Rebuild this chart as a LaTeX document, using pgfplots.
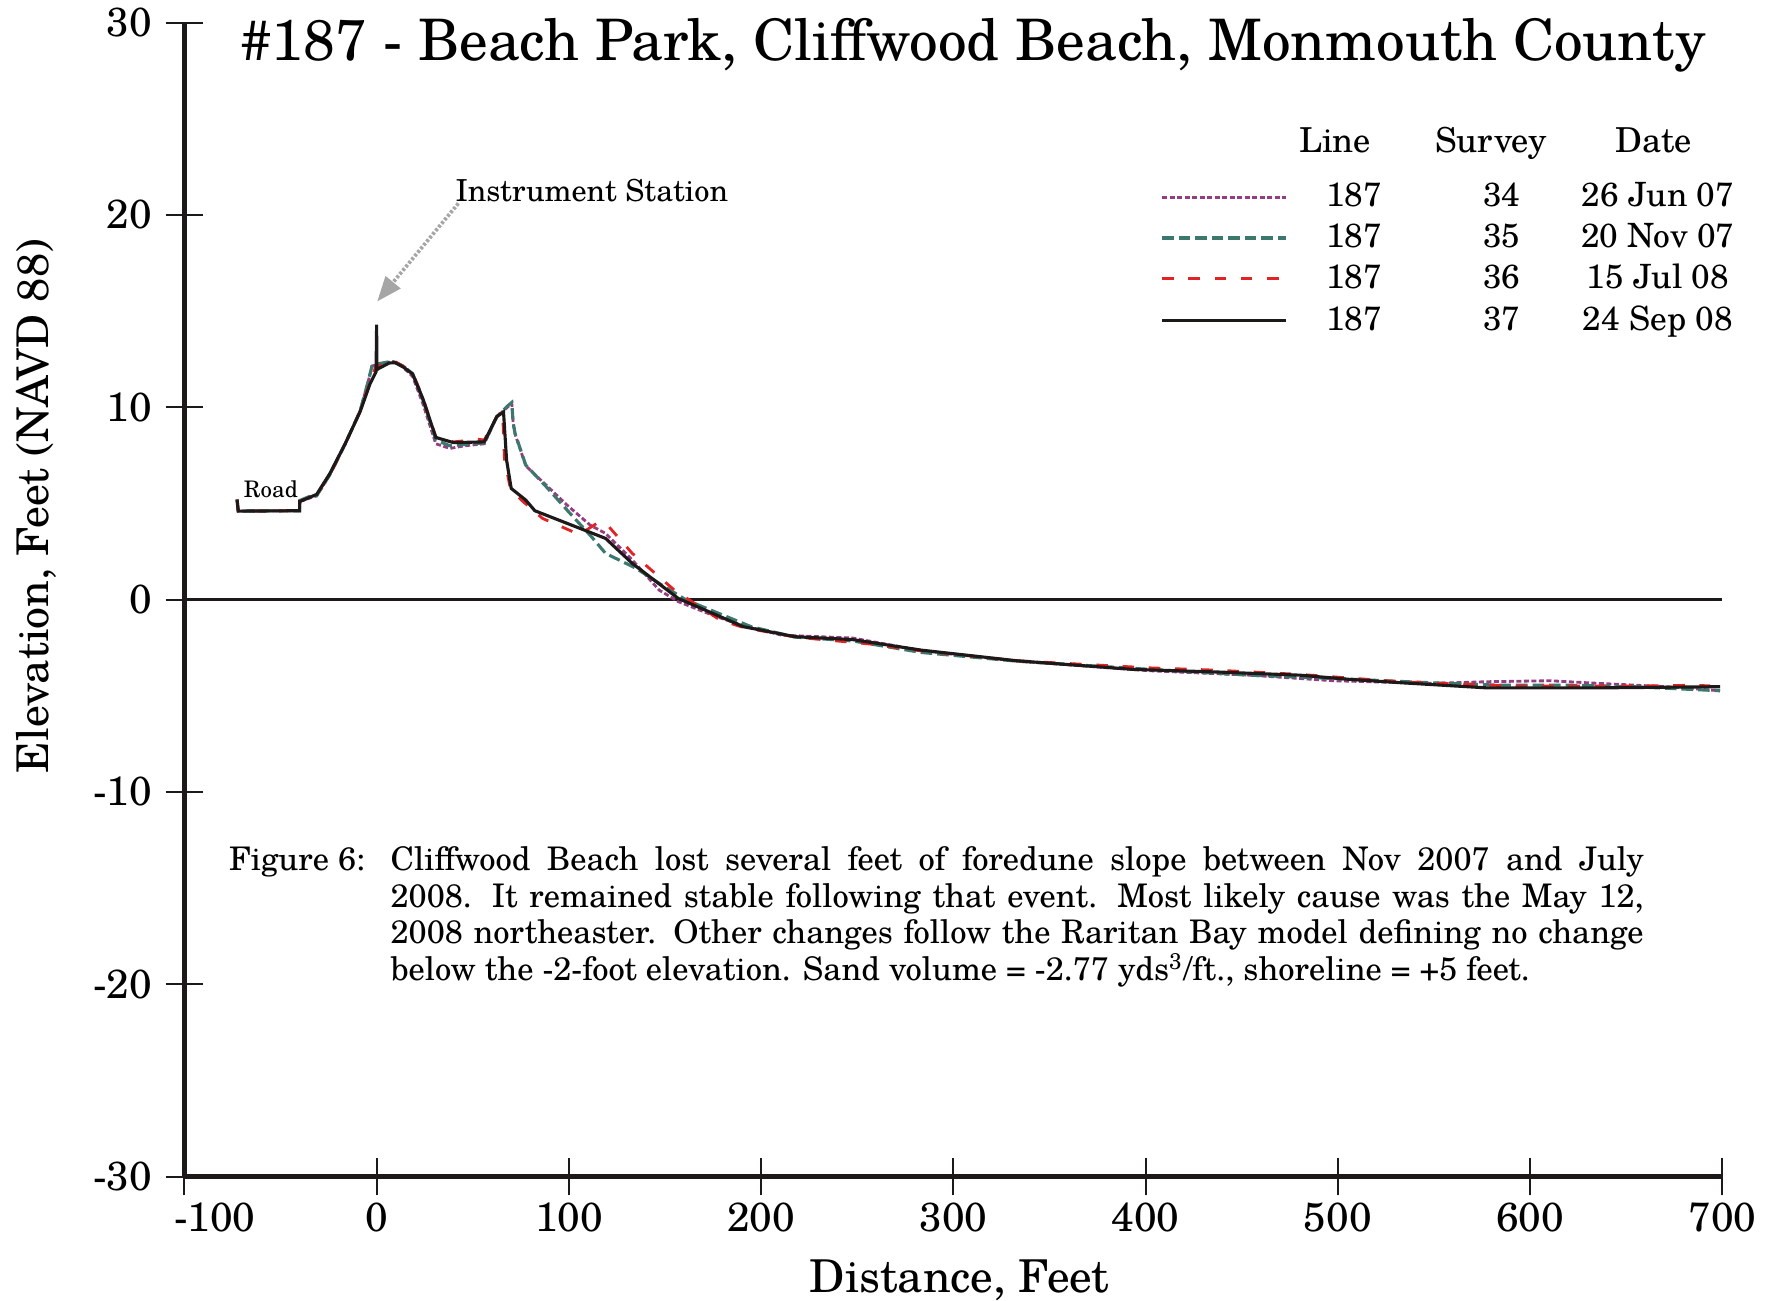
\documentclass[border=0pt]{standalone}
\usepackage{fontspec}
\setmainfont[PunctuationSpace=1]{TeX Gyre Schola}
\usepackage{pgfplots}
\pgfplotsset{compat=1.18}
\usetikzlibrary{arrows.meta}
\definecolor{cPurple}{RGB}{150,60,130}
\definecolor{cGreen}{RGB}{60,120,110}
\definecolor{cRed}{RGB}{225,35,35}
\definecolor{cBlack}{RGB}{30,25,25}
\begin{document}
\begin{tikzpicture}
\begin{axis}[
  scale only axis, width=492.16pt, height=369.28pt,
  xmin=-100, xmax=700, ymin=-30, ymax=30,
  axis lines*=left,
  axis line style={line width=1.4pt, color=cBlack},
  xtick={-100,0,...,700}, ytick={-30,-20,...,30},
  xticklabels={\makebox[0pt][c]{\hspace{19.4pt}-100},0,100,200,300,400,500,600,700},
  yticklabels={-30,-20,-10,0,10,20,30},
  tick align=center, major tick length=12pt,
  tick style={line width=0.6pt, cBlack},
  ticklabel style={font=\fontsize{13}{15}\selectfont},
  yticklabel style={xshift=-0.9pt},
  xticklabel style={yshift=1.2pt},
  every axis x label/.style={at={(axis description cs:0.504,-0.090)},anchor=center,font=\fontsize{14.5}{16}\selectfont},
  every axis y label/.style={at={(axis description cs:-0.096,0.581)},rotate=90,anchor=center,font=\fontsize{14}{16}\selectfont},
  xlabel={Distance, Feet},
  ylabel={Elevation, Feet (NAVD 88)},
  clip=false,
  legend style={draw=none, fill=none, at={(rel axis cs:0.6343,0.8617)}, anchor=north west,
    inner sep=0pt, row sep=3.8pt, column sep=8.3pt,
    nodes={inner sep=0pt, font=\fontsize{10.7}{13}\selectfont}},
  legend cell align=left,
  legend image code/.code={\draw[#1] (0pt,0pt) -- (39.8pt,0pt);},
]
\addplot[cBlack, line width=1pt, forget plot] coordinates {(-100,0) (700,0)};

% Survey 34, 26 Jun 07
\addplot[cPurple, line width=0.9pt, dash pattern=on 1.6pt off 0.8pt] coordinates {
(-72.6,5.2) (-72.0,4.6) (-40.1,4.62) (-40.0,5.1) (-31.2,5.4) (-24.3,6.5) (-16.3,8.1)
(-8.6,9.8) (-4.5,11.3) (-2.3,12.15) (3,12.25) (8,12.4) (13.6,12.1) (18.7,11.6) (24.0,10.2)
(30.8,8.1) (38.1,7.86) (46,8.0) (56.0,8.1) (62.5,9.5) (68,10.0) (70.3,10.2) (71,9.2) (72,8.6)
(77.6,6.95) (88.2,5.95) (99.2,4.9) (111.1,3.87) (119.1,3.44) (133,2.06) (147,0.49) (157,-0.11)
(176.8,-0.89) (190.8,-1.35) (210.7,-1.85) (247.6,-2.0) (283.4,-2.65) (332.9,-3.2) (402.3,-3.70)
(454.3,-3.93) (497.6,-4.22) (549.7,-4.36) (577.4,-4.27) (610.4,-4.22) (636.4,-4.36) (671,-4.53)
(698.8,-4.74)};
\addlegendentry{\makebox[25.6pt][c]{187}\makebox[69.1pt][c]{34}\makebox[30.7pt][c]{26 Jun 07}\vphantom{Jp}}

% Survey 35, 20 Nov 07
\addplot[cGreen, line width=1pt, dash pattern=on 3.7pt off 1.6pt] coordinates {
(-72.6,5.2) (-72.0,4.6) (-40.1,4.62) (-40.0,5.15) (-34,5.4) (-31.2,5.4) (-24.3,6.5) (-16.3,8.1)
(-8.6,9.8) (-4.5,11.3) (-2.3,12.2) (3,12.3) (8,12.4) (13.6,12.15) (18.7,11.75) (24.0,10.4)
(30.8,8.3) (38,8.0) (56.0,8.15) (62.5,9.5) (68,10.06) (70.3,10.25) (71,9.2) (72,8.64)
(77.6,6.99) (88.2,5.87) (100,4.55) (112.1,3.23) (119.1,2.40) (135.1,1.62) (147.0,0.84)
(161.0,-0.02) (194.8,-1.41) (217.7,-1.95) (247.6,-2.15) (283.4,-2.75) (332.9,-3.2) (402.3,-3.63)
(454.3,-3.93) (497.6,-4.10) (549.7,-4.33) (584,-4.45) (619,-4.45) (653.7,-4.53) (698.8,-4.74)};
\addlegendentry{\makebox[25.6pt][c]{187}\makebox[69.1pt][c]{35}\makebox[30.7pt][c]{20 Nov 07}\vphantom{Jp}}

% Survey 36, 15 Jul 08
\addplot[cRed, line width=0.9pt, dash pattern=on 3.7pt off 4.7pt] coordinates {
(-72.6,5.2) (-72.0,4.6) (-40.1,4.62) (-40.0,5.1) (-31.2,5.45) (-24.3,6.5) (-16.3,8.1)
(-8.6,9.8) (-3.5,11.3) (-0.5,12.1) (5.5,12.3) (10,12.35) (13.6,12.15) (18.7,11.8) (24.0,10.5)
(30.8,8.45) (40.0,8.2) (53,8.33) (56.0,8.3) (62.5,9.5) (65.5,9.8) (66.5,7.3) (69.5,5.8) (75,5.2)
(86.3,4.22) (103.2,3.48) (109.2,3.62) (115.1,4.0) (120.1,3.87) (133,2.40) (154.9,0.49)
(178.8,-1.07) (190.8,-1.45) (217.7,-1.95) (256.6,-2.31) (283.4,-2.67) (332.9,-3.18)
(402.3,-3.55) (436.9,-3.67) (480.3,-3.89) (532.3,-4.27) (593,-4.50) (646,-4.50) (681,-4.46)
(693.6,-4.48)};
\addlegendentry{\makebox[25.6pt][c]{187}\makebox[69.1pt][c]{36}\makebox[30.7pt][c]{15 Jul 08}\vphantom{Jp}}

% Survey 37, 24 Sep 08
\addplot[cBlack, line width=1pt] coordinates {
(-72.6,5.2) (-72.0,4.6) (-40.1,4.62) (-40.0,5.1) (-31.2,5.47) (-24.3,6.56) (-16.3,8.12)
(-8.6,9.77) (-3.5,11.2) (-0.3,11.85) (0,14.3) (0.1,11.95) (1.2,12.02) (6.5,12.3) (9.6,12.32)
(13.6,12.11) (18.7,11.73) (24.0,10.46) (30.8,8.43) (40.0,8.16) (56.0,8.2) (62.5,9.52)
(66.0,9.75) (67.6,7.25) (70.0,5.78) (77.6,5.17) (82.3,4.62) (119.1,3.18) (133,1.88)
(156.9,0.06) (190.8,-1.41) (217.7,-1.93) (247.6,-2.08) (283.4,-2.63) (332.9,-3.18)
(393.6,-3.63) (438.7,-3.77) (480.3,-3.93) (506.3,-4.15) (532.3,-4.32) (577.4,-4.59)
(636.4,-4.59) (698.8,-4.53)};
\addlegendentry{\makebox[25.6pt][c]{187}\makebox[69.1pt][c]{37}\makebox[30.7pt][c]{24 Sep 08}\vphantom{Jp}}

% title
\node[anchor=base, font=\fontsize{18.3}{21}\selectfont] at (axis cs:310.2,28.05)
  {\#187 - Beach Park, Cliffwood Beach, Monmouth County};
% legend header
\node[anchor=base, font=\fontsize{11}{13}\selectfont] at (axis cs:498.6,23.23) {Line};
\node[anchor=base, font=\fontsize{11}{13}\selectfont] at (axis cs:579.6,23.23) {Survey};
\node[anchor=base, font=\fontsize{11}{13}\selectfont] at (axis cs:664.4,23.23) {Date};
% annotations
\node[anchor=base west, inner sep=0pt, font=\fontsize{9.7}{12}\selectfont] at (axis cs:40.75,20.69) {Instrument Station};
\draw[black!35, line width=1.2pt, dash pattern=on 0.9pt off 0.6pt, -{Triangle[length=8pt,width=6pt]}]
  (axis cs:42.5,20.6) -- (axis cs:0.3,15.5);
\node[anchor=base west, inner sep=0pt, font=\fontsize{7.3}{8}\selectfont] at (axis cs:-69.4,5.29) {Road};
% caption
\node[anchor=north west, inner sep=0pt, font=\fontsize{10.4}{11.7}\selectfont] at (axis cs:-77.06,-12.82) {Figure 6:};
\node[anchor=north west, inner sep=0pt, text width=401pt, align=justify, font=\fontsize{10.4}{11.7}\selectfont] at (axis cs:6.95,-12.82)
 {Cliffwood Beach lost several feet of foredune slope between Nov 2007 and July\linebreak
  2008.  It remained stable following that event.  Most likely cause was the May 12,\linebreak
  2008 northeaster.  Other changes follow the Raritan Bay model defining no change\linebreak
  below the -2-foot elevation.  Sand volume = -2.77 yds\textsuperscript{3}/ft., shoreline = +5 feet.};
\coordinate (BL) at (rel axis cs:-0.1199,-0.1077);
\coordinate (TR) at (rel axis cs:1.0336,1.0196);
\end{axis}
\pgfresetboundingbox
\path (BL) rectangle (TR);
\end{tikzpicture}
\end{document}
